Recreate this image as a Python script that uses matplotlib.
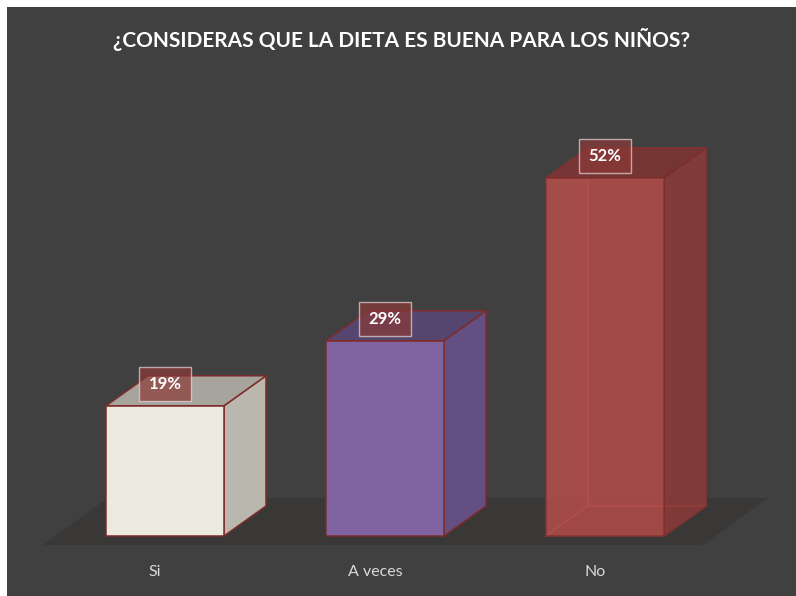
import matplotlib.pyplot as plt
from matplotlib.patches import Polygon

categories = ['Si', 'A veces', 'No']
values = [19.05, 28.57, 52.38]
labels = ['19%', '29%', '52%']
front_colors = ['#ECE9DF', '#8064A2', '#B34E4B']
side_colors = ['#BAB8AE', '#644F82', '#8A3B38']
top_colors = ['#A6A49C', '#54466E', '#7A3331']
alphas = [1.0, 1.0, 0.78]

title = u'\u00bfCONSIDERAS QUE LA DIETA ES BUENA PARA LOS NI\u00d1OS?'

plt.rcParams['font.family'] = ['Lato', 'DejaVu Sans']

W, H = 796, 596
bg = '#404040'
edge = '#7E2C2B'
width = 0.536
ddx, ddy = 0.191, 4.39


def face(ax, pts, color, alpha=1.0, z=2, ec=edge):
    ax.add_patch(Polygon(pts, closed=True, facecolor=color, edgecolor=ec,
                         linewidth=1.1, alpha=alpha, zorder=z, joinstyle='round'))


def bar3d(ax, x, v, fc, sc, tc, a):
    l, r = x - width / 2, x + width / 2
    front = [(l, 0), (r, 0), (r, v), (l, v)]
    side = [(r, 0), (r + ddx, ddy), (r + ddx, v + ddy), (r, v)]
    top = [(l, v), (r, v), (r + ddx, v + ddy), (l + ddx, v + ddy)]
    if a < 1:
        # hidden faces show through the transparent bar
        back = [(l + ddx, ddy), (r + ddx, ddy), (r + ddx, v + ddy), (l + ddx, v + ddy)]
        left = [(l, 0), (l + ddx, ddy), (l + ddx, v + ddy), (l, v)]
        bottom = [(l, 0), (r, 0), (r + ddx, ddy), (l + ddx, ddy)]
        face(ax, back, sc, 0.5, 2, '#C85A56')
        face(ax, bottom, tc, 0.5, 2, '#C85A56')
        face(ax, left, fc, 0.4, 2, '#C85A56')
    face(ax, side, sc, a, 3)
    face(ax, top, tc, a, 3)
    face(ax, front, fc, a, 4)


if __name__ == '__main__':
    fig = plt.figure(figsize=(W / 100, H / 100), dpi=100)
    fig.patch.set_facecolor('white')
    ax = fig.add_axes([7 / W, 0, 1 - 7 / W, 1 - 7 / H])
    ax.set_facecolor(bg)

    # pixel mapping: category spacing 220 px, 6.835 px per percent
    ax.set_xlim((7 - 165) / 220, (W - 165) / 220)
    ax.set_ylim(-60 / 6.835, (536 - 7) / 6.835)

    # floor
    fx0, fx1, fy = -0.555, 2.445, -1.32
    fdx, fdy = 0.295, 6.88
    ax.add_patch(Polygon([(fx0, fy), (fx1, fy), (fx1 + fdx, fy + fdy), (fx0 + fdx, fy + fdy)],
                         closed=True, facecolor='#393837', edgecolor='none', zorder=1))

    for i, v in enumerate(values):
        bar3d(ax, i, v, front_colors[i], side_colors[i], top_colors[i], alphas[i])
        ax.text(i, v + 3.2, labels[i], ha='center', va='center', color='white',
                fontsize=12, fontweight='bold', zorder=6,
                bbox=dict(boxstyle='square,pad=0.55', facecolor='#8A3A38', alpha=0.7,
                          edgecolor='#E8D8D8', linewidth=1.0))
        ax.text(i - 0.045, -5.3, categories[i], ha='center', va='center',
                color='#D9D9D9', fontsize=11.5, zorder=6)

    ax.text(0.5, 0.945, title, transform=ax.transAxes, ha='center', va='center',
            color='white', fontsize=15, fontweight='bold')

    ax.set_xticks([])
    ax.set_yticks([])
    for s in ax.spines.values():
        s.set_visible(False)

    fig.savefig('out.png', dpi=100, facecolor=fig.get_facecolor())
